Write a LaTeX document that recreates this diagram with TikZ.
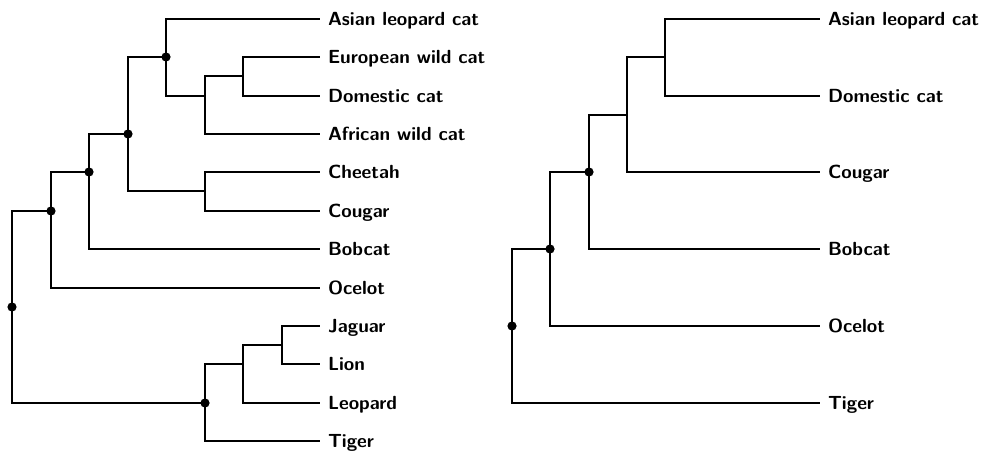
\documentclass[tikz,border=0pt]{standalone}
\begin{document}
\begin{tikzpicture}[x=0.5pt,y=-0.5pt,
  branch/.style={line width=1pt},
  leaf/.style={anchor=west,inner xsep=4pt,inner ysep=0pt,outer sep=0pt,
    font=\fontsize{9.5}{11}\selectfont\sffamily\bfseries,text height=6.6pt,text depth=0pt},
  dot/.style={circle,fill=black,inner sep=0pt,minimum size=4.6pt}]
\useasboundingbox (0,0) rectangle (983,453);
% ---------- left tree ----------
\node[leaf] (la) at (320,19) {Asian leopard cat};
\node[leaf] (le) at (320,57) {European wild cat};
\node[leaf] (ld) at (320,96) {Domestic cat};
\node[leaf] (lf) at (320,134) {African wild cat};
\node[leaf] (lch) at (320,172) {Cheetah};
\node[leaf] (lco) at (320,211) {Cougar};
\node[leaf] (lbo) at (320,249) {Bobcat};
\node[leaf] (loc) at (320,288) {Ocelot};
\node[leaf] (lja) at (320,326) {Jaguar};
\node[leaf] (lli) at (320,364) {Lion};
\node[leaf] (lle) at (320,403) {Leopard};
\node[leaf] (lti) at (320,441) {Tiger};
\coordinate (r)  at (12,307);
\coordinate (n1) at (51,211);
\coordinate (n2) at (89,172);
\coordinate (n3) at (128,134);
\coordinate (n4) at (166,57);
\coordinate (n5) at (205,96);
\coordinate (n6) at (243,76);
\coordinate (n7) at (205,191);
\coordinate (t1) at (205,403);
\coordinate (t2) at (243,364);
\coordinate (t3) at (282,345);
\draw[branch] (r) |- (n1) (r) |- (t1);
\draw[branch] (n1) |- (n2) (n1) |- (loc.west);
\draw[branch] (n2) |- (n3) (n2) |- (lbo.west);
\draw[branch] (n3) |- (n4) (n3) |- (n7);
\draw[branch] (n4) |- (la.west) (n4) |- (n5);
\draw[branch] (n5) |- (n6) (n5) |- (lf.west);
\draw[branch] (n6) |- (le.west) (n6) |- (ld.west);
\draw[branch] (n7) |- (lch.west) (n7) |- (lco.west);
\draw[branch] (t1) |- (t2) (t1) |- (lti.west);
\draw[branch] (t2) |- (t3) (t2) |- (lle.west);
\draw[branch] (t3) |- (lja.west) (t3) |- (lli.west);
\node[dot] (dr) at (r) {};
\node[dot] (d1) at (n1) {};
\node[dot] (d2) at (n2) {};
\node[dot] (d3) at (n3) {};
\node[dot] (d4) at (n4) {};
\node[dot] (dt1) at (t1) {};
% ---------- right tree ----------
\node[leaf] (ra) at (820,19) {Asian leopard cat};
\node[leaf] (rd) at (820,96) {Domestic cat};
\node[leaf] (rco) at (820,172) {Cougar};
\node[leaf] (rbo) at (820,249) {Bobcat};
\node[leaf] (roc) at (820,326) {Ocelot};
\node[leaf] (rti) at (820,403) {Tiger};
\coordinate (R)  at (512,326);
\coordinate (R1) at (550,249);
\coordinate (R2) at (589,172);
\coordinate (R3) at (627,115);
\coordinate (R4) at (665,57);
\draw[branch] (R) |- (R1) (R) |- (rti.west);
\draw[branch] (R1) |- (R2) (R1) |- (roc.west);
\draw[branch] (R2) |- (R3) (R2) |- (rbo.west);
\draw[branch] (R3) |- (R4) (R3) |- (rco.west);
\draw[branch] (R4) |- (ra.west) (R4) |- (rd.west);
\node[dot] (dR) at (R) {};
\node[dot] (dR1) at (R1) {};
\node[dot] (dR2) at (R2) {};
\end{tikzpicture}
\end{document}
